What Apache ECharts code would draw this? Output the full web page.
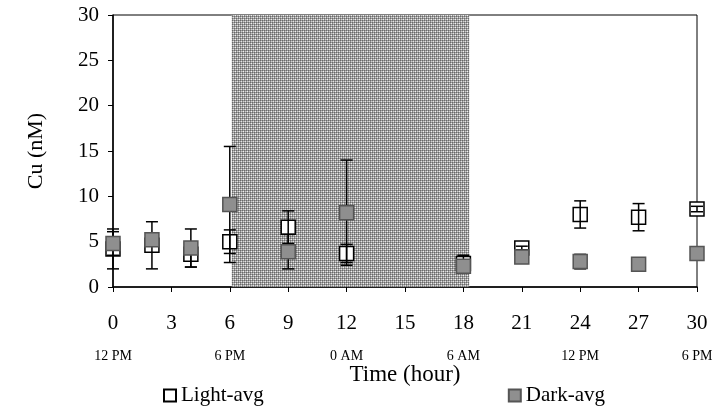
<!DOCTYPE html>
<html>
<head>
<meta charset="utf-8">
<script src="https://cdn.jsdelivr.net/npm/echarts@6/dist/echarts.min.js"></script>
<style>html,body{margin:0;padding:0;background:#fff}#c{width:727px;height:411px}</style>
</head>
<body>
<div id="c"></div>
<script>
const hours = [0, 2, 4, 6, 9, 12, 18, 21, 24, 27, 30];
const lightAvg = [4.2, 4.6, 3.6, 5.0, 6.6, 3.7, 2.6, 4.3, 8.0, 7.7, 8.6];
const lightErr = [2.2, 2.6, 1.4, 1.3, 1.8, 1.0, 0.9, 0.2, 1.5, 1.5, 0.3];
const darkAvg = [4.8, 5.2, 4.3, 9.1, 3.9, 8.2, 2.3, 3.3, 2.8, 2.5, 3.7];
const darkErr = [1.3, 0.5, 2.1, 6.4, 1.9, 5.8, 0.6, 0.3, 0.8, 0.2, 0.3];
const xTicks = [0, 3, 6, 9, 12, 15, 18, 21, 24, 27, 30];
const clockLabels = ['12 PM', '6 PM', '0 AM', '6 AM', '12 PM', '6 PM'];
const darkPeriod = [6.1, 18.3];

const FONT = 'Liberation Serif';

// stipple pattern for the dark period
const pc = document.createElement('canvas');
pc.width = 4; pc.height = 4;
const pctx = pc.getContext('2d');
const pat = [
  ['#6a6a6a', '#9c9c9c', '#6a6a6a', '#9c9c9c'],
  ['#b0b0b0', '#e4e4e4', '#909090', '#d0d0d0'],
  ['#6a6a6a', '#9c9c9c', '#6a6a6a', '#9c9c9c'],
  ['#909090', '#d0d0d0', '#b0b0b0', '#f2f2f2']
];
for (let y = 0; y < 4; y++) {
  for (let x = 0; x < 4; x++) {
    pctx.fillStyle = pat[y][x];
    pctx.fillRect(x, y, 1, 1);
  }
}

function errData(avg, err) {
  return hours.map((h, i) => [h, avg[i] - err[i], avg[i] + err[i]]);
}
function renderErr(params, api) {
  const x = api.value(0);
  const lo = api.coord([x, api.value(1)]);
  const hi = api.coord([x, api.value(2)]);
  const hw = 6;
  const style = { stroke: '#000', lineWidth: 1.5, fill: null };
  return {
    type: 'group',
    children: [
      { type: 'line', shape: { x1: lo[0], y1: lo[1], x2: hi[0], y2: hi[1] }, style },
      { type: 'line', shape: { x1: lo[0] - hw, y1: lo[1], x2: lo[0] + hw, y2: lo[1] }, style },
      { type: 'line', shape: { x1: hi[0] - hw, y1: hi[1], x2: hi[0] + hw, y2: hi[1] }, style }
    ]
  };
}

const chart = echarts.init(document.getElementById('c'), null, { renderer: 'canvas' });
chart.setOption({
  animation: false,
  textStyle: { fontFamily: FONT },
  grid: { left: 113, right: 30, top: 15, bottom: 124, show: true, borderColor: '#000', borderWidth: 1, backgroundColor: 'transparent' },
  legend: {
    top: 380, left: 158, itemGap: 244, itemWidth: 12, itemHeight: 12, icon: 'rect',
    textStyle: { fontFamily: FONT, fontSize: 21, color: '#000' },
    data: ['Light-avg', 'Dark-avg']
  },
  xAxis: [{
    type: 'value', min: 0, max: 30, interval: 3,
    name: 'Time (hour)', nameLocation: 'middle', nameGap: 76,
    nameTextStyle: { fontFamily: FONT, fontSize: 23, color: '#000' },
    axisLine: { lineStyle: { color: '#000', width: 1.5 } },
    axisTick: { show: true, length: 5, lineStyle: { color: '#000' } },
    axisLabel: { margin: 26, fontSize: 21, color: '#000', fontFamily: FONT,
      customValues: xTicks },
    splitLine: { show: false }
  }, {
    type: 'value', min: 0, max: 30, interval: 6, position: 'bottom',
    axisLine: { show: false }, axisTick: { show: false }, splitLine: { show: false },
    axisLabel: { margin: 62, fontSize: 14, color: '#000', fontFamily: FONT,
      formatter: v => clockLabels[Math.round(v / 6)] }
  }],
  yAxis: {
    type: 'value', min: 0, max: 30, interval: 5,
    name: 'Cu (nM)', nameLocation: 'middle', nameGap: 66, nameRotate: 90,
    nameTextStyle: { fontFamily: FONT, fontSize: 22, color: '#000' },
    axisLine: { show: true, lineStyle: { color: '#000', width: 1.5 } },
    axisTick: { show: true, length: 5, lineStyle: { color: '#000' } },
    axisLabel: { margin: 14, fontSize: 21, color: '#000', fontFamily: FONT },
    splitLine: { show: false }
  },
  series: [{
    type: 'scatter', name: 'shade', data: [], z: 1, silent: true,
    markArea: {
      silent: true,
      itemStyle: { color: { image: pc, repeat: 'repeat' }, borderWidth: 0 },
      data: [[{ xAxis: darkPeriod[0], yAxis: 0 }, { xAxis: darkPeriod[1], yAxis: 30 }]]
    }
  }, {
    type: 'scatter', name: 'Light-avg', symbol: 'rect', symbolSize: 14, z: 2,
    itemStyle: { color: '#fff', borderColor: '#000', borderWidth: 1.5, opacity: 1 },
    data: hours.map((h, i) => [h, lightAvg[i]])
  }, {
    type: 'custom', name: 'lightErr', renderItem: renderErr, z: 3,
    data: errData(lightAvg, lightErr)
  }, {
    type: 'custom', name: 'darkErr', renderItem: renderErr, z: 3,
    data: errData(darkAvg, darkErr)
  }, {
    type: 'scatter', name: 'Dark-avg', symbol: 'rect', symbolSize: 14, z: 4,
    itemStyle: { color: '#8f8f8f', borderColor: '#555', borderWidth: 1.5, opacity: 1 },
    data: hours.map((h, i) => [h, darkAvg[i]])
  }]
});
</script>
</body>
</html>
